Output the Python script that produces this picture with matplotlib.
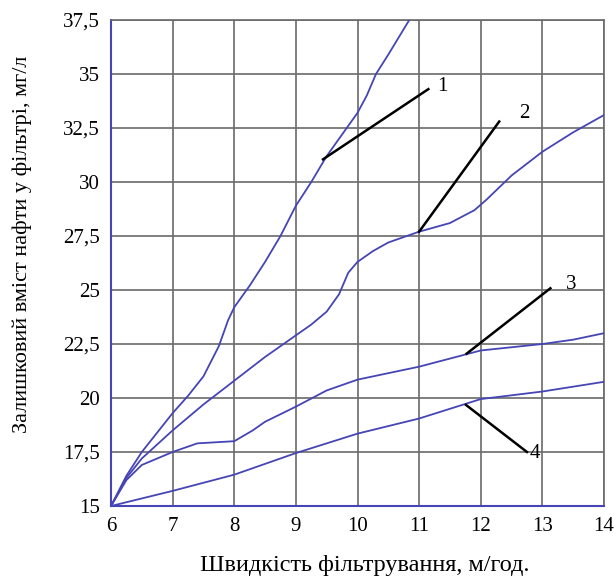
import matplotlib
matplotlib.use("Agg")
import matplotlib.pyplot as plt

plt.rcParams['font.family'] = ['Liberation Serif', 'DejaVu Serif']

# curve data
x1 = [6, 6.25, 6.5, 7, 7.25, 7.5, 7.75, 7.9, 8, 8.25, 8.5, 8.75, 9, 9.25, 9.5, 9.75, 10, 10.15, 10.3, 10.5, 10.84]
y1 = [15, 16.4, 17.5, 19.3, 20.1, 21.0, 22.4, 23.6, 24.2, 25.2, 26.3, 27.5, 28.9, 30.0, 31.2, 32.2, 33.2, 34.0, 35.0, 35.9, 37.5]

x2 = [6, 6.25, 6.5, 7, 7.5, 8, 8.5, 9, 9.25, 9.5, 9.7, 9.85, 10, 10.25, 10.5, 11, 11.5, 11.9, 12.1, 12.5, 13, 13.5, 14]
y2 = [15, 16.3, 17.2, 18.5, 19.7, 20.8, 21.9, 22.9, 23.4, 24.0, 24.8, 25.8, 26.3, 26.8, 27.2, 27.7, 28.1, 28.7, 29.2, 30.3, 31.4, 32.3, 33.1]

x3 = [6, 6.25, 6.5, 7, 7.4, 8, 8.3, 8.5, 9, 9.5, 10, 11, 11.8, 12, 12.5, 13, 13.5, 14]
y3 = [15, 16.2, 16.9, 17.5, 17.9, 18.0, 18.5, 18.9, 19.6, 20.35, 20.85, 21.45, 22.05, 22.2, 22.35, 22.5, 22.7, 23.0]

x4 = [6, 7, 8, 9, 10, 11, 12, 13, 14]
y4 = [15, 15.7, 16.45, 17.45, 18.35, 19.05, 19.95, 20.3, 20.75]

# leader lines: (start x, start y, end x, end y, label)
leaders = [
    (9.44, 31.05, 11.15, 34.3, '1'),
    (11.0, 27.7, 12.3, 32.8, '2'),
    (11.77, 22.05, 13.13, 25.08, '3'),
    (11.76, 19.68, 12.75, 17.5, '4'),
]
label_pos = [(11.3, 34.4), (12.62, 33.15), (13.38, 25.25), (12.8, 17.45)]

xticks = [6, 7, 8, 9, 10, 11, 12, 13, 14]
yticks = [15, 17.5, 20, 22.5, 25, 27.5, 30, 32.5, 35, 37.5]
ytick_labels = ['15', '17,5', '20', '22,5', '25', '27,5', '30', '32,5', '35', '37,5']

curve_color = '#4545b5'
grid_color = '#6a6a6a'

fig = plt.figure(figsize=(6.14, 5.78), dpi=100)
ax = fig.add_axes([111 / 614, 1 - 506 / 578, 493 / 614, 486 / 578])

for xs, ys in [(x1, y1), (x2, y2), (x3, y3), (x4, y4)]:
    ax.plot(xs, ys, color=curve_color, linewidth=1.3, zorder=3)

for (xa, ya, xb, yb, lab), (lx, ly) in zip(leaders, label_pos):
    ax.plot([xa, xb], [ya, yb], color='black', linewidth=1.8, zorder=4)
    ax.text(lx, ly, lab, fontsize=15, ha='left', va='center', zorder=5)

ax.set_xlim(6, 14)
ax.set_ylim(15, 37.5)
ax.set_xticks(xticks)
ax.set_yticks(yticks)
ax.set_yticklabels(ytick_labels)
ax.tick_params(length=0, labelsize=15, pad=8)
ax.grid(True, color=grid_color, linewidth=1.2)
ax.set_axisbelow(True)

for side in ['top', 'right']:
    ax.spines[side].set_color(grid_color)
    ax.spines[side].set_linewidth(1.2)
for side in ['left', 'bottom']:
    ax.spines[side].set_color(curve_color)
    ax.spines[side].set_linewidth(1.5)

fig.text(365 / 614, 1 - 565 / 578, 'Швидкість фільтрування, м/год.',
         fontsize=17.5, ha='center', va='center')
fig.text(22 / 614, 1 - 244 / 578, 'Залишковий вміст нафти у фільтрі, мг/л',
         fontsize=16, ha='center', va='center', rotation=90)

fig.savefig('out.png', dpi=100)
